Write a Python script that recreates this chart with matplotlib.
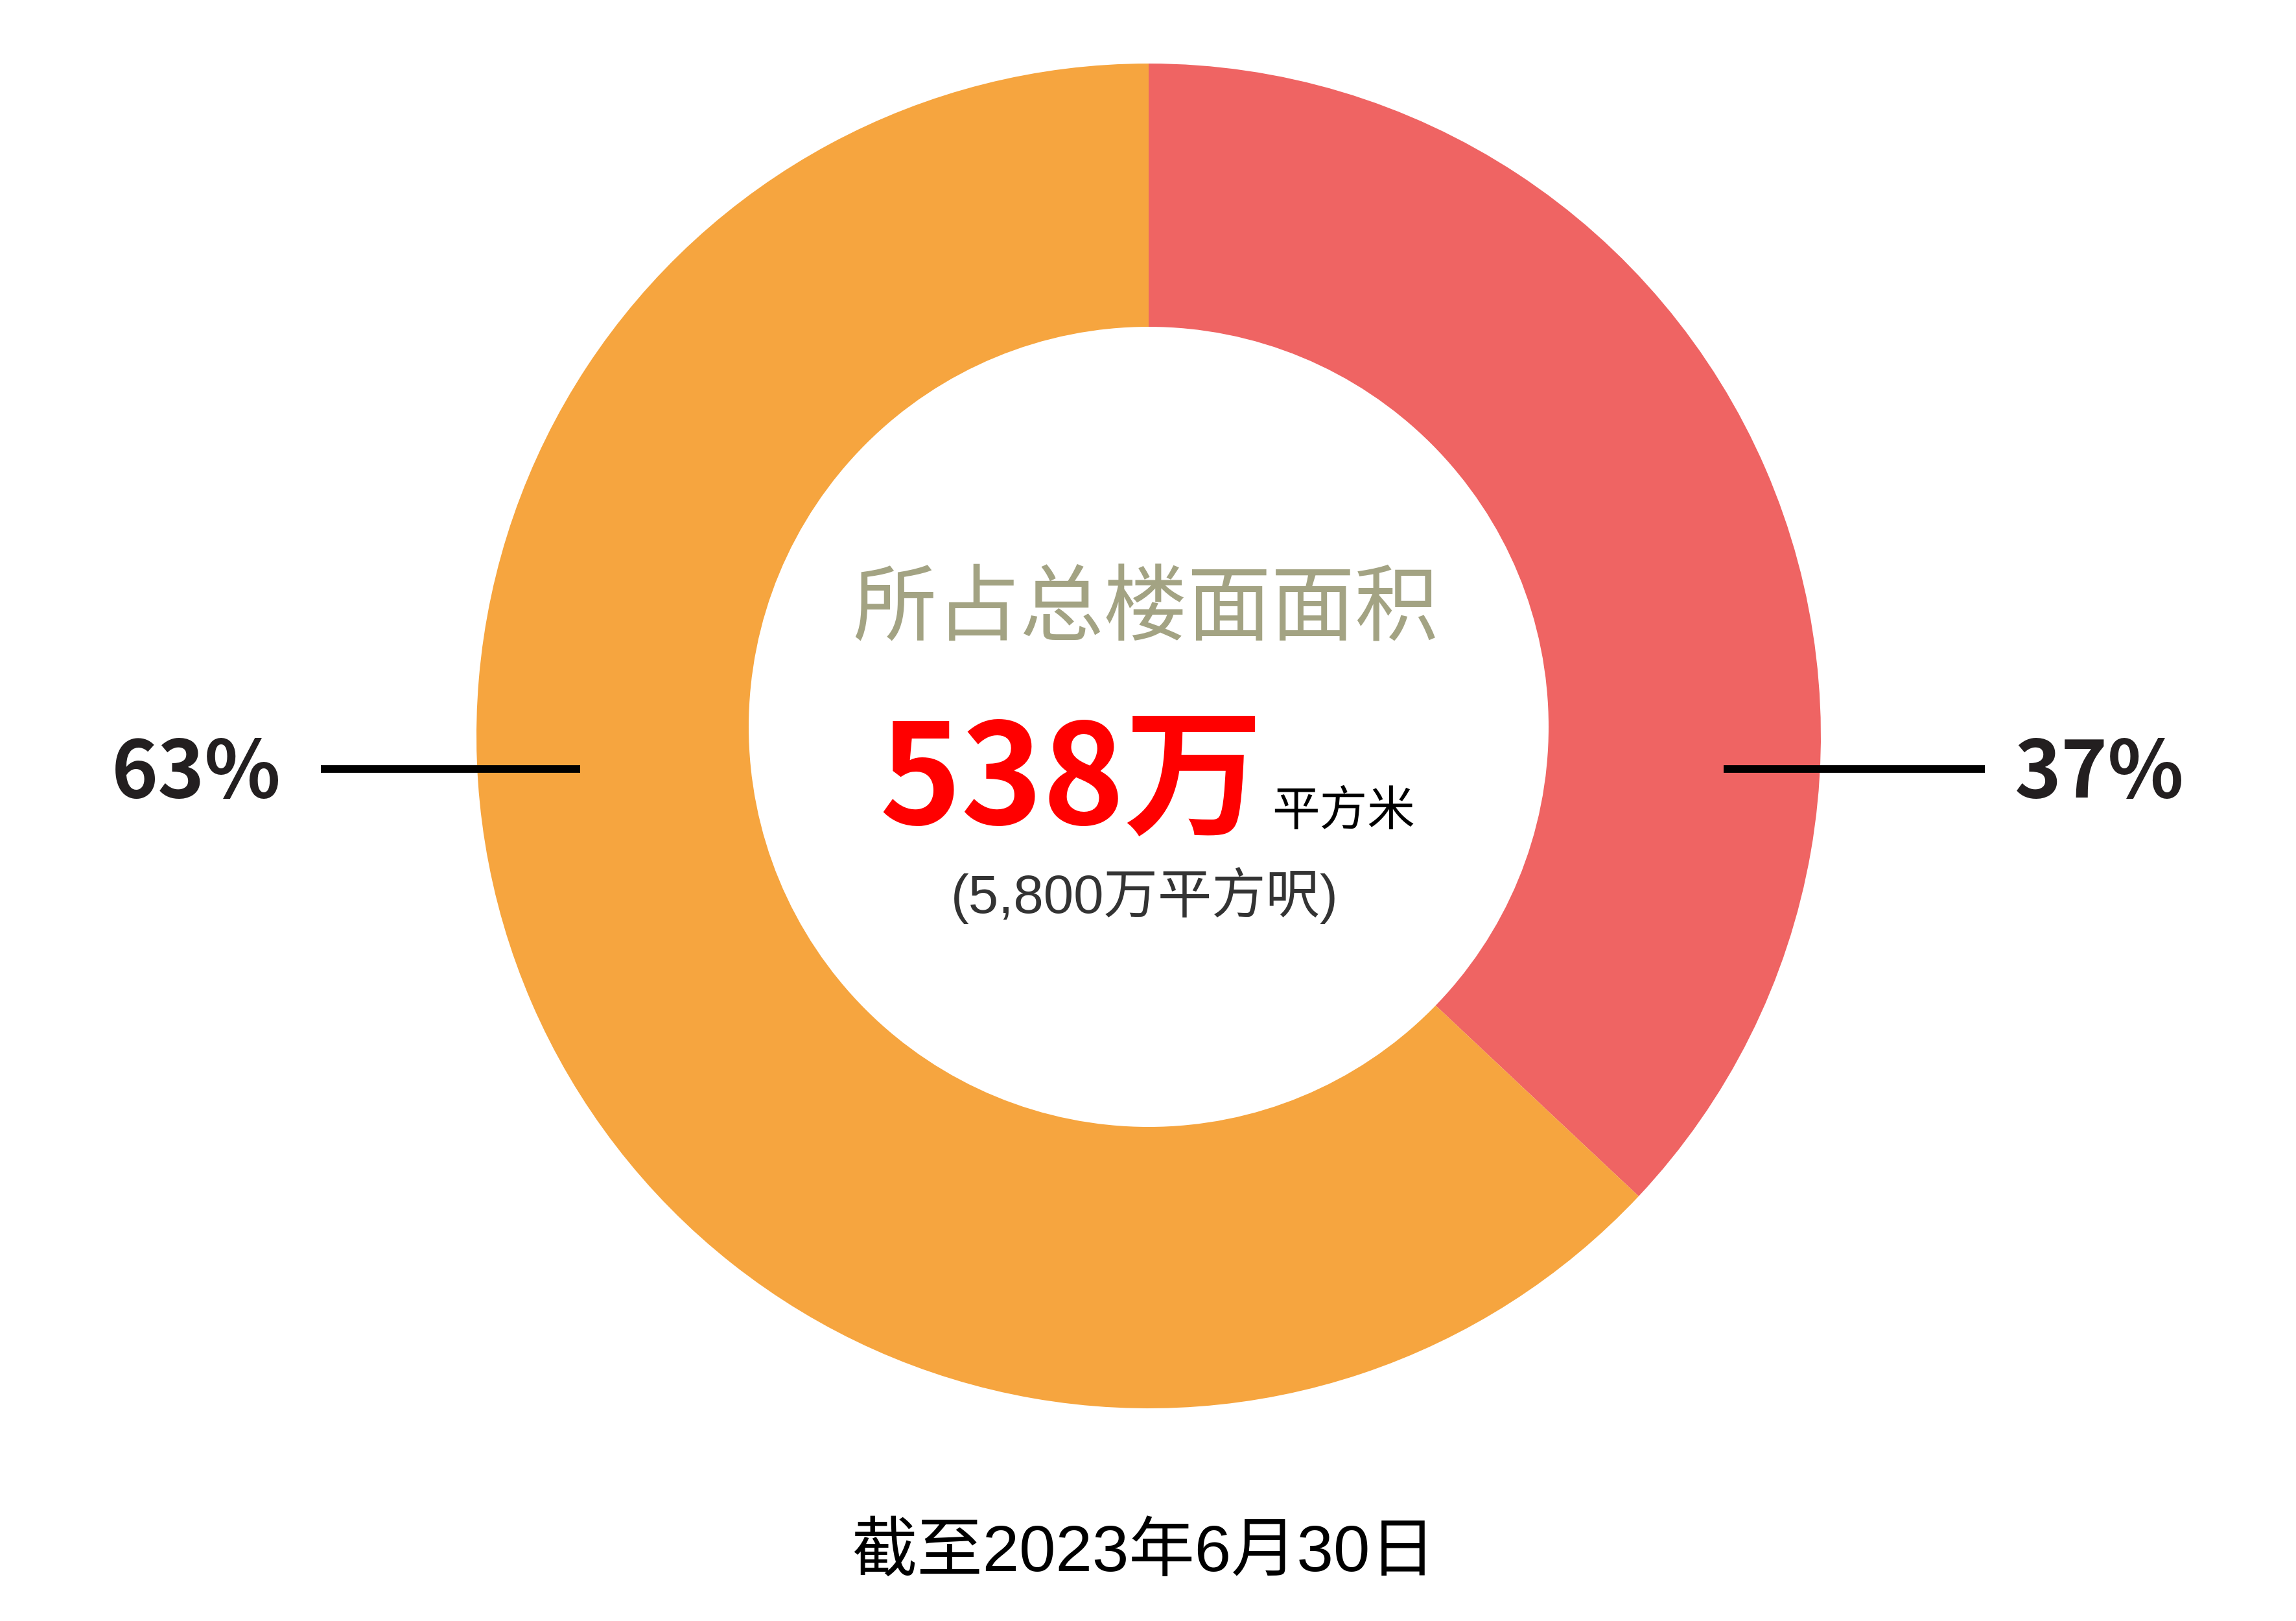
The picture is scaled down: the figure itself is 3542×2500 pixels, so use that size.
import matplotlib
matplotlib.use('Agg')
import matplotlib.pyplot as plt

plt.rcParams['font.family'] = ['Noto Sans CJK SC', 'DejaVu Sans']

# data
labels = ['红', '橙']
shares = [37, 63]
colors = ['#EF6463', '#F6A53F']
pct_labels = ['37%', '63%']
title = '所占总楼面面积'
big_value = '538万'
unit = '平方米'
sub_value = '(5,800万平方呎)'
footnote = '截至2023年6月30日'

W, H = 3542, 2500
fig = plt.figure(figsize=(W / 100, H / 100), dpi=100)
ax = fig.add_axes([0, 0, 1, 1])


def fy(y):
    # pixel row (from top) -> data y
    return H - y


cx, cy = 1772, 1135
r_out = 1037
hole_cy, r_in = 1121, 617   # hole sits a touch above the ring centre

ax.pie(shares, colors=colors, startangle=90, counterclock=False,
       center=(cx, fy(cy)), radius=r_out, frame=True,
       wedgeprops=dict(linewidth=0))
ax.add_patch(plt.Circle((cx, fy(hole_cy)), r_in, color='white', lw=0, zorder=3))
ax.set_xlim(0, W)
ax.set_ylim(0, H)
ax.set_aspect('auto')
ax.axis('off')

# leader lines
ax.plot([495, 895], [fy(1186), fy(1186)], color='black', lw=8.5,
        solid_capstyle='butt', zorder=5)
ax.plot([2659, 3062], [fy(1186), fy(1186)], color='black', lw=8.5,
        solid_capstyle='butt', zorder=5)

ax.text(303, fy(1195), pct_labels[1], ha='center', va='center', fontsize=88,
        fontweight='bold', color='#231F20', zorder=6)
ax.text(3239, fy(1195), pct_labels[0], ha='center', va='center', fontsize=88,
        fontweight='bold', color='#231F20', zorder=6)

# centre text
ax.text(1767, fy(942), title, ha='center', va='center', fontsize=93,
        color='#A3A383', zorder=6)
ax.text(1356, fy(1270), big_value, ha='left', va='baseline', fontsize=154,
        fontweight='bold', color='#FF0000', zorder=6)
ax.text(1962, fy(1273), unit, ha='left', va='baseline', fontsize=53,
        color='black', zorder=6)
ax.text(1766, fy(1381), sub_value, ha='center', va='center', fontsize=60,
        color='#333333', family=['Liberation Sans', 'Noto Sans CJK SC'], zorder=6)

ax.text(1764, fy(2397), footnote, ha='center', va='center', fontsize=73,
        color='black', family=['Liberation Sans', 'Noto Sans CJK SC'])

fig.savefig('out.png', dpi=100, facecolor='white')
